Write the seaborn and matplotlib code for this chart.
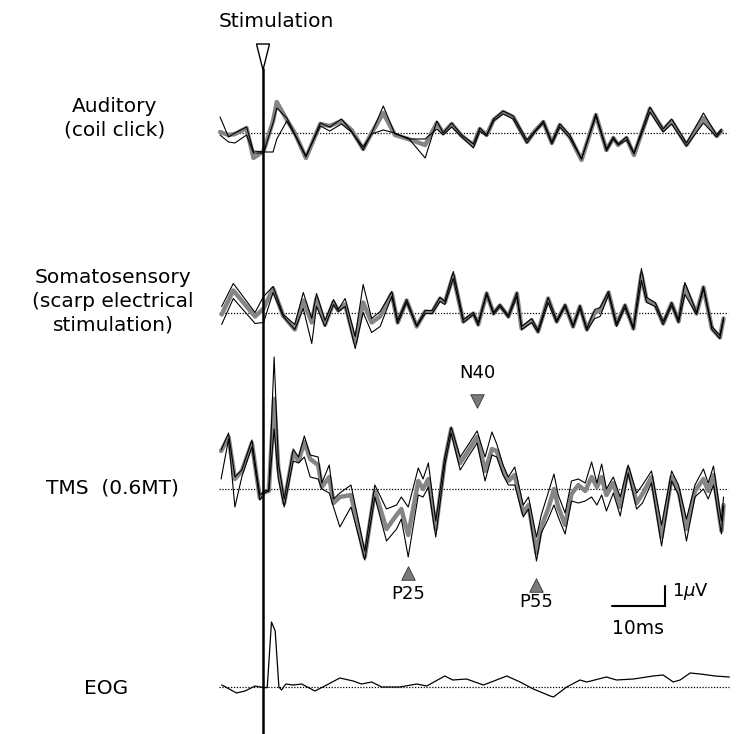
import numpy as np
import pandas as pd
import matplotlib
matplotlib.use("Agg")
import matplotlib.pyplot as plt
import seaborn as sns

# ---- time axes (ms, stimulus at 0) and amplitudes (µV) ----
aud_t = [-8.1, -6.5, -5.3, -3.1, -1.8, 0.1, 1.9, 2.6, 4.5, 6.0, 8.1, 10.8, 12.6, 14.8, 16.7,
         18.9, 20.5, 22.7, 24.9, 27.4, 30.6, 32.8, 34.0, 35.6, 37.5, 39.7, 40.9, 42.2, 43.5,
         45.3, 47.2, 49.8, 51.3, 52.9, 54.5, 56.0, 57.9, 60.1, 62.8, 64.8, 66.1, 67.0, 68.6,
         70.0, 73.0, 75.5, 77.1, 79.9, 83.1, 85.6, 86.5]
aud_a = [0.8, -0.2, 0.0, 0.3, -0.9, -0.95, -0.95, -0.3, 0.6, -0.1, -1.2, 0.5, 0.3, 0.7, 0.1,
         -0.85, 0.0, 1.35, -0.05, -0.25, -1.25, 0.6, 0.0, 0.5, -0.1, -0.55, 0.25, -0.1, 0.7,
         1.1, 0.85, -0.35, 0.1, 0.6, -0.45, 0.45, -0.1, -1.3, 0.95, -0.8, -0.2, -0.55, -0.2,
         -1.0, 1.3, 0.2, 0.7, -0.5, 1.0, -0.1, 0.2]
aud_b = [0.05, -0.1, -0.05, 0.25, -1.25, -0.9, 0.6, 1.55, 0.65, 0.0, -1.25, 0.45, 0.35, 0.6, 0.15,
         -0.8, 0.0, 1.0, -0.1, -0.3, -0.6, 0.5, 0.0, 0.45, -0.15, -0.6, 0.2, -0.1, 0.65,
         1.05, 0.8, -0.45, 0.1, 0.55, -0.5, 0.4, -0.2, -1.35, 0.9, -0.85, -0.25, -0.6, -0.25,
         -1.1, 1.2, 0.15, 0.6, -0.6, 0.75, -0.15, 0.1]
aud_c = [-0.1, -0.45, -0.5, -0.1, -1.0, -1.0, 0.5, 1.25, 0.75, -0.05, -1.15, 0.35, 0.1, 0.45, 0.05,
         -0.7, -0.05, 0.15, 0.0, -0.3, -0.3, 0.2, -0.1, 0.3, -0.2, -0.75, 0.1, -0.15, 0.6,
         0.95, 0.7, -0.5, 0.05, 0.5, -0.55, 0.3, -0.25, -1.3, 0.85, -0.9, -0.3, -0.6, -0.35,
         -1.05, 1.05, 0.05, 0.45, -0.65, 0.5, -0.2, 0.1]

som_t = [-7.8, -5.6, -1.5, 0.1, 1.9, 3.8, 6.0, 7.6, 9.2, 10.1, 11.7, 13.3, 14.2, 15.5, 17.4,
         18.9, 20.5, 22.1, 24.3, 25.4, 27.1, 29.0, 30.6, 31.9, 33.4, 34.3, 35.9, 37.8, 39.7,
         40.6, 42.2, 43.5, 44.7, 46.3, 47.9, 48.8, 50.7, 51.9, 53.8, 55.4, 57.0, 58.5, 59.8,
         61.1, 62.6, 63.6, 65.2, 66.7, 68.3, 69.9, 71.4, 72.4, 74.0, 75.5, 77.1, 78.4, 79.6,
         81.8, 83.1, 84.7, 86.2, 86.9]
som_a = [0.3, 1.45, 0.0, 0.8, 1.3, -0.1, -0.6, 1.0, -0.3, 0.95, -0.4, 0.65, 0.15, 0.7, -1.2,
         1.4, -0.3, 0.05, 1.05, -0.4, 0.65, -0.65, 0.1, 0.1, 0.75, 0.55, 2.05, -0.35, 0.0,
         -0.5, 1.0, 0.0, 0.4, -0.15, 1.0, -0.7, -0.3, -0.9, 0.75, -0.4, 0.4, -0.65, 0.35,
         -0.8, 0.15, 0.25, 1.05, -0.55, 0.4, -0.75, 2.2, 0.75, 0.5, -0.45, 0.5, -0.35, 1.5,
         0.0, 1.3, -0.7, -1.15, -0.25]
som_b = [-0.1, 1.1, -0.2, 0.2, 1.2, -0.15, -0.85, 0.6, -0.5, 0.7, -0.6, 0.5, 0.1, 0.4, -1.5,
         0.5, -0.5, -0.2, 0.95, -0.5, 0.6, -0.7, 0.05, 0.0, 0.7, 0.5, 1.85, -0.45, -0.05,
         -0.6, 0.95, -0.05, 0.35, -0.2, 0.95, -0.8, -0.4, -0.95, 0.7, -0.45, 0.35, -0.7, 0.3,
         -0.85, 0.0, 0.1, 1.0, -0.6, 0.35, -0.8, 1.9, 0.6, 0.4, -0.55, 0.45, -0.45, 1.3,
         -0.05, 1.25, -0.8, -1.25, -0.3]
som_c = [-0.6, 0.7, -0.55, -0.5, 1.0, -0.2, -0.85, 0.2, -1.55, 0.3, -0.7, 0.4, 0.05, 0.3, -1.8,
         0.0, -1.0, -0.7, 0.8, -0.55, 0.5, -0.7, -0.05, -0.05, 0.55, 0.4, 1.7, -0.5, -0.1,
         -0.65, 0.9, -0.1, 0.3, -0.25, 0.8, -0.85, -0.5, -1.0, 0.5, -0.5, 0.3, -0.75, 0.2,
         -0.9, -0.3, -0.2, 0.9, -0.7, 0.25, -0.85, 1.6, 0.5, 0.3, -0.6, 0.35, -0.5, 0.9,
         -0.1, 1.2, -0.85, -1.3, -0.35]

tms_t = [-7.9, -6.5, -5.3, -4.0, -2.1, -0.6, 0.3, 1.1, 2.1, 2.9, 4.0, 5.7, 6.7, 7.8, 8.9,
         10.4, 11.1, 12.5, 13.3, 14.5, 16.6, 19.2, 21.1, 23.3, 25.2, 26.1, 27.4, 29.3, 30.2,
         31.2, 32.6, 34.3, 35.5, 37.2, 38.7, 40.4, 41.9, 43.2, 44.1, 45.3, 46.3, 47.5, 49.1,
         50.1, 51.6, 52.5, 53.8, 54.9, 55.7, 57.0, 58.2, 59.5, 60.8, 62.0, 63.0, 63.9, 64.8,
         66.1, 67.4, 68.9, 70.5, 71.6, 73.3, 75.2, 77.1, 78.4, 79.9, 81.5, 83.1, 84.0, 85.0,
         86.5, 86.9]
tms_a = [1.95, 2.8, 0.6, 0.95, 2.45, -0.3, -0.1, -0.05, 6.6, 1.3, -0.5, 2.0, 1.6, 2.65, 1.7,
         1.6, 0.3, 1.2, -0.5, -0.2, 0.2, -3.1, 0.2, -1.0, -0.8, -0.4, -0.9, 1.05, 0.5,
         1.3, -1.6, 1.6, 3.1, 1.6, 2.2, 2.9, 1.6, 2.85, 2.25, 1.2, 0.6, 1.1, -0.8,
         -0.4, -2.4, -1.3, -0.2, 0.75, -0.3, -1.2, 0.4, 0.5, 0.3, 1.35, 0.3, 1.25, 0.0,
         0.6, -0.4, 1.2, -0.2, 0.2, 0.9, -1.8, 0.9, 0.2, -1.5, 0.2, 1.0, 0.3, 1.15,
         -1.6, -0.4]
tms_b = [1.9, 2.6, 0.5, 0.9, 2.3, -0.45, -0.15, -0.1, 4.5, 1.0, -0.7, 1.8, 1.4, 2.35, 1.5,
         1.2, 0.1, 0.6, -0.7, -0.4, -0.3, -3.4, -0.1, -2.0, -1.3, -1.0, -2.3, 0.4, 0.0,
         0.5, -2.0, 1.4, 3.0, 1.3, 1.9, 2.6, 0.9, 2.0, 1.9, 0.9, 0.4, 0.7, -1.2,
         -0.8, -3.2, -1.9, -1.0, 0.0, -0.9, -1.8, -0.25, 0.2, -0.1, 0.6, 0.1, 0.6, -0.3,
         0.3, -0.9, 1.0, -0.7, -0.25, 0.6, -2.4, 0.6, -0.1, -2.0, -0.1, 0.5, -0.1, 0.7,
         -2.1, -0.8]
tms_c = [0.5, 2.5, -0.9, 0.6, 2.1, -0.55, -0.2, -0.1, 3.0, 0.5, -0.9, 1.4, 1.3, 1.6, 0.6,
         0.5, 0.0, -0.2, -0.9, -1.9, -0.9, -3.55, -0.4, -2.6, -2.0, -1.5, -3.4, -0.3, -0.4,
         0.1, -2.4, 1.2, 2.8, 0.95, 1.6, 2.3, 0.4, 1.7, 1.6, 0.7, 0.2, 0.2, -1.4,
         -1.0, -3.6, -2.2, -1.5, -0.8, -1.4, -2.25, -0.6, -0.7, -0.6, -0.4, -0.8, -0.3, -1.1,
         -0.2, -1.35, 0.8, -1.0, -0.7, 0.3, -2.85, 0.4, -0.3, -2.6, -0.4, 0.0, -0.5, 0.2,
         -2.25, -0.85]

eog_t = [-7.8, -7.4, -5.0, -3.4, -1.5, 0.1, 0.8, 1.6, 2.3, 3.0, 3.5, 4.3, 5.7, 7.3, 9.8,
         12.0, 14.5, 17.0, 18.6, 20.5, 22.4, 25.8, 29.0, 30.9, 34.3, 35.8, 38.4, 41.6, 46.0,
         48.5, 51.0, 54.2, 54.8, 57.3, 59.8, 61.1, 64.8, 66.7, 69.9, 73.6, 75.5, 77.4, 78.7,
         80.6, 82.5, 85.3, 88.0]
eog_v = [0.1, 0.05, -0.3, -0.2, 0.05, -0.03, -0.03, 3.25, 2.8, 0.0, -0.15, 0.15, 0.1, 0.15, -0.2,
         0.1, 0.45, 0.3, 0.15, 0.25, 0.0, 0.0, 0.15, 0.05, 0.55, 0.35, 0.4, 0.1, 0.55,
         0.25, -0.1, -0.45, -0.5, 0.0, 0.35, 0.25, 0.5, 0.35, 0.4, 0.55, 0.6, 0.25, 0.35,
         0.7, 0.65, 0.55, 0.5]

# row labels and peak labels
row_labels = ["Auditory\n(coil click)",
              "Somatosensory\n(scarp electrical\nstimulation)",
              "TMS  (0.6MT)",
              "EOG"]
peak_names = ["N40", "P25", "P55"]
peak_times = [40.4, 27.4, 51.6]

# ---- layout: x in ms, y in µV with each row stacked on its own baseline ----
PX_PER_MS = 5.3
PX_PER_UV = 20.0
W, H = 737, 734
X_STIM = 263


def ypx(p):
    return (H - p) / PX_PER_UV


def xpx(p):
    return (p - X_STIM) / PX_PER_MS


baselines = [ypx(133), ypx(312.5), ypx(489), ypx(687)]

sns.set_theme(style="white")
plt.rcParams["font.family"] = ["DejaVu Sans"]
plt.rcParams["text.color"] = "black"

fig = plt.figure(figsize=(W / 100, H / 100), dpi=100)
ax = fig.add_axes([0, 0, 1, 1])
ax.set_xlim(xpx(0), xpx(W))
ax.set_ylim(0, H / PX_PER_UV)
ax.axis("off")

dot_style = (0, (1.0, 1.3))
line_kw = dict(estimator=None, sort=False, legend=False, ax=ax)
LABEL_FS = 14.5


def draw_bundle(t, a, b, c, base):
    df = pd.DataFrame({"t": t * 3,
                       "v": np.concatenate([a, b, c]) + base,
                       "trial": ["a"] * len(t) + ["b"] * len(t) + ["c"] * len(t)})
    ax.hlines(base, -8.3, 87.8, colors="black", linestyles=[dot_style], lw=0.9, zorder=1)
    sns.lineplot(data=df[df.trial == "b"], x="t", y="v", color="#858585", lw=3.2, zorder=2,
                 **line_kw)
    sns.lineplot(data=df[df.trial != "b"], x="t", y="v", units="trial", color="black", lw=0.8,
                 zorder=3, **line_kw)


draw_bundle(aud_t, aud_a, aud_b, aud_c, baselines[0])
draw_bundle(som_t, som_a, som_b, som_c, baselines[1])
draw_bundle(tms_t, tms_a, tms_b, tms_c, baselines[2])

eog_df = pd.DataFrame({"t": eog_t, "v": np.array(eog_v) + baselines[3]})
ax.hlines(baselines[3], -8.3, 88.0, colors="black", linestyles=[dot_style], lw=0.9, zorder=1)
sns.lineplot(data=eog_df, x="t", y="v", color="black", lw=0.9, zorder=3, **line_kw)
ax.set_xlabel("")
ax.set_ylabel("")

# stimulation marker
ax.plot([0, 0], [ypx(68), 0], color="black", lw=1.8, zorder=4, solid_capstyle="butt")
tri_w = 6.5 / PX_PER_MS
ax.fill([-tri_w, tri_w, 0], [ypx(44), ypx(44), ypx(70)], facecolor="white",
        edgecolor="black", lw=1.0, zorder=5)
ax.text(xpx(276), ypx(21), "Stimulation", ha="center", va="center", fontsize=LABEL_FS)

# row labels
ax.text(xpx(115), ypx(118), row_labels[0], ha="center", va="center", fontsize=LABEL_FS,
        linespacing=1.3)
ax.text(xpx(113), ypx(301), row_labels[1], ha="center", va="center", fontsize=LABEL_FS,
        linespacing=1.3)
ax.text(xpx(112), ypx(488), row_labels[2], ha="center", va="center", fontsize=LABEL_FS)
ax.text(xpx(106), ypx(688), row_labels[3], ha="center", va="center", fontsize=LABEL_FS)

# component markers
peak_y = [ypx(401), ypx(573), ypx(585)]
text_y = [ypx(373), ypx(594), ypx(602)]
markers = ["v", "^", "^"]
for name, tx, my, ty, mk in zip(peak_names, peak_times, peak_y, text_y, markers):
    ax.scatter([tx], [my], marker=mk, s=95, color="#7a7a7a", edgecolor="#333333",
               linewidths=0.6, zorder=6)
    ax.text(tx, ty, name, ha="center", va="center", fontsize=13)

# scale bar: 10 ms x 1 µV
sb_x0 = xpx(612)
sb_y0 = ypx(606)
ax.plot([sb_x0, sb_x0 + 10, sb_x0 + 10], [sb_y0, sb_y0, sb_y0 + 1], color="black", lw=1.5,
        solid_joinstyle="miter")
ax.text(sb_x0 + 11.4, sb_y0 + 0.7, r"1$\mu$V", ha="left", va="center", fontsize=13)
ax.text(sb_x0 + 5, ypx(628), "10ms", ha="center", va="center", fontsize=13.5)

fig.savefig("out.png", dpi=100, facecolor="white")
